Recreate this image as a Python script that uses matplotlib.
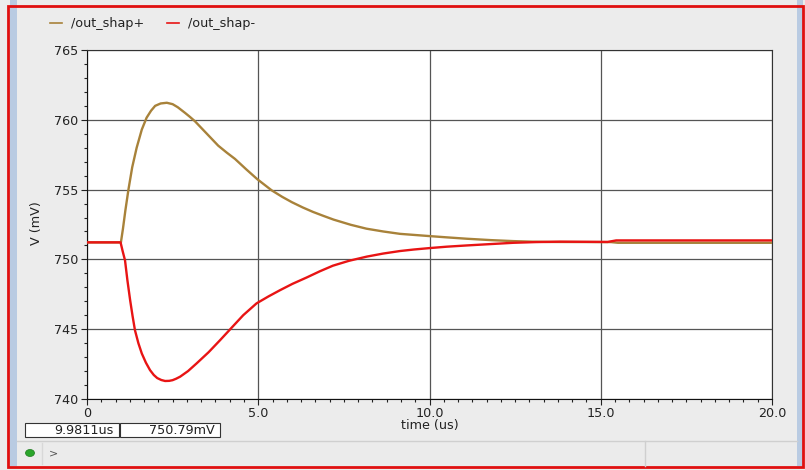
import matplotlib
matplotlib.use("Agg")
import matplotlib.pyplot as plt
from matplotlib import ticker
from matplotlib.patches import Rectangle, Ellipse
from matplotlib.lines import Line2D

# datos (tiempo en us, tension en mV)
t_plus = [0, 0.99, 1.05, 1.12, 1.21, 1.32, 1.45, 1.6, 1.74, 1.87, 1.99, 2.15, 2.33,
          2.5, 2.65, 2.86, 3.0, 3.15, 3.5, 3.83, 4.08, 4.32, 4.65, 4.97, 5.39, 5.7,
          5.98, 6.3, 6.6, 6.9, 7.2, 7.7, 8.16, 8.65, 9.14, 10.0, 10.5, 11.09, 11.8,
          12.45, 13.0, 13.5, 15.3, 15.5, 20.0]
v_plus = [751.22, 751.22, 752.2, 753.5, 755.0, 756.6, 758.0, 759.3, 760.15, 760.65,
          761.0, 761.17, 761.22, 761.12, 760.9, 760.5, 760.22, 759.9, 759.0, 758.15,
          757.65, 757.2, 756.45, 755.75, 754.95, 754.48, 754.1, 753.72, 753.4, 753.12,
          752.85, 752.48, 752.2, 752.0, 751.83, 751.67, 751.58, 751.48, 751.38, 751.31,
          751.27, 751.25, 751.24, 751.19, 751.19]

t_minus = [0, 0.98, 1.04, 1.11, 1.18, 1.26, 1.33, 1.40, 1.5, 1.6, 1.72, 1.84, 1.95,
           2.05, 2.17, 2.28, 2.4, 2.5, 2.6, 2.72, 2.95, 3.2, 3.55, 3.88, 4.22, 4.56,
           4.95, 5.3, 5.64, 6.0, 6.41, 6.8, 7.18, 7.65, 8.17, 8.65, 9.14, 9.55, 10.0,
           10.5, 11.09, 11.8, 12.45, 13.1, 13.81, 15.2, 15.45, 20.0]
v_minus = [751.22, 751.22, 750.6, 749.93, 748.5, 747.07, 745.95, 744.93, 744.0,
           743.26, 742.6, 742.07, 741.72, 741.5, 741.36, 741.29, 741.3, 741.35, 741.45,
           741.6, 742.0, 742.55, 743.35, 744.2, 745.1, 746.0, 746.85, 747.35, 747.8,
           748.25, 748.7, 749.15, 749.55, 749.9, 750.2, 750.42, 750.6, 750.71, 750.81,
           750.91, 751.0, 751.1, 751.19, 751.24, 751.27, 751.25, 751.36, 751.36]

nombres = ["/out_shap+", "/out_shap-"]
colores = ["#a8823a", "#e81414"]
x_ticks = [0, 5, 10, 15, 20]
x_labels = ["0", "5.0", "10.0", "15.0", "20.0"]
y_ticks = [740, 745, 750, 755, 760, 765]
cursor_t = "9.9811us"
cursor_v = "750.79mV"

W, H = 805, 470
fig = plt.figure(figsize=(W / 100, H / 100), dpi=100)
fig.patch.set_facecolor("#ececec")
plt.rcParams["font.family"] = ["DejaVu Sans"]
fs = 9.2

def fx(px):
    return px / W

def fy(py):
    return 1 - py / H

# marco de la ventana
fig.add_artist(Rectangle((fx(10), fy(466)), fx(7), 1, transform=fig.transFigure,
                         facecolor="#b9cbe2", edgecolor="none"))
fig.add_artist(Rectangle((fx(797), fy(466)), fx(6), 1, transform=fig.transFigure,
                         facecolor="#b9cbe2", edgecolor="none"))
# barra de estado
fig.add_artist(Rectangle((fx(17), fy(466)), fx(780), (466 - 441) / H,
                         transform=fig.transFigure, facecolor="#ebebeb",
                         edgecolor="none"))
fig.add_artist(Line2D([fx(17), fx(797)], [fy(441), fy(441)], transform=fig.transFigure,
                      color="#cfcfcf", lw=1))
fig.add_artist(Line2D([fx(645), fx(645)], [fy(441), fy(466)], transform=fig.transFigure,
                      color="#cfcfcf", lw=1))
fig.add_artist(Line2D([fx(42), fx(42)], [fy(443), fy(464)], transform=fig.transFigure,
                      color="#d8d8d8", lw=1))
fig.add_artist(Ellipse((fx(30), fy(453)), fx(9), 7 / H, transform=fig.transFigure,
                       facecolor="#2aa52a", edgecolor="#1d7a1d", lw=0.5))
fig.text(fx(49), fy(453), ">", fontsize=8, color="#555555", va="center")
fig.add_artist(Rectangle((fx(7.5), fy(467)), fx(795.5), (467 - 5.5) / H,
                         transform=fig.transFigure, facecolor="none",
                         edgecolor="#e01010", lw=2))

# cajas del cursor
for x0, x1, txt in [(25, 119, cursor_t), (120, 220, cursor_v)]:
    fig.add_artist(Rectangle((fx(x0), fy(437)), fx(x1 - x0), 14 / H,
                             transform=fig.transFigure, facecolor="white",
                             edgecolor="#333333", lw=0.8))
    fig.text(fx(x1 - 5), fy(430), txt, fontsize=fs, ha="right", va="center",
             color="#222222")

# leyenda
for i, (nom, col) in enumerate(zip(nombres, colores)):
    x0 = 50 + i * 117
    fig.add_artist(Line2D([fx(x0), fx(x0 + 12)], [fy(23), fy(23)],
                          transform=fig.transFigure, color=col, lw=1.2))
    fig.text(fx(x0 + 21), fy(23), nom, fontsize=fs, va="center", color="#222222")

ax = fig.add_axes([fx(87), fy(399), fx(772 - 87), (399 - 50) / H])
ax.set_facecolor("white")
ax.plot(t_plus, v_plus, color=colores[0], lw=1.7, zorder=3)
ax.plot(t_minus, v_minus, color=colores[1], lw=1.7, zorder=4)

ax.set_xlim(0, 20)
ax.set_ylim(740, 765)
ax.set_xticks(x_ticks)
ax.set_xticklabels(x_labels)
ax.set_yticks(y_ticks)
ax.xaxis.set_minor_locator(ticker.MultipleLocator(5 / 12))
ax.yaxis.set_minor_locator(ticker.MultipleLocator(1))
ax.tick_params(which="major", length=4, width=0.8, labelsize=fs, colors="#222222",
               pad=2)
ax.tick_params(which="minor", length=2, width=0.8, colors="#222222")
ax.grid(True, which="major", color="#555555", lw=0.9)
ax.set_axisbelow(True)
for lado in ["left", "bottom"]:
    ax.spines[lado].set_color("#111111")
for lado in ["top", "right"]:
    ax.spines[lado].set_color("#333333")

fig.text(fx(430), fy(426), "time (us)", fontsize=fs, ha="center", va="center",
         color="#222222")
fig.text(fx(36), fy(223), "V (mV)", fontsize=fs, ha="center", va="center",
         rotation=90, color="#222222")

fig.savefig("out.png", dpi=100, facecolor=fig.get_facecolor())
